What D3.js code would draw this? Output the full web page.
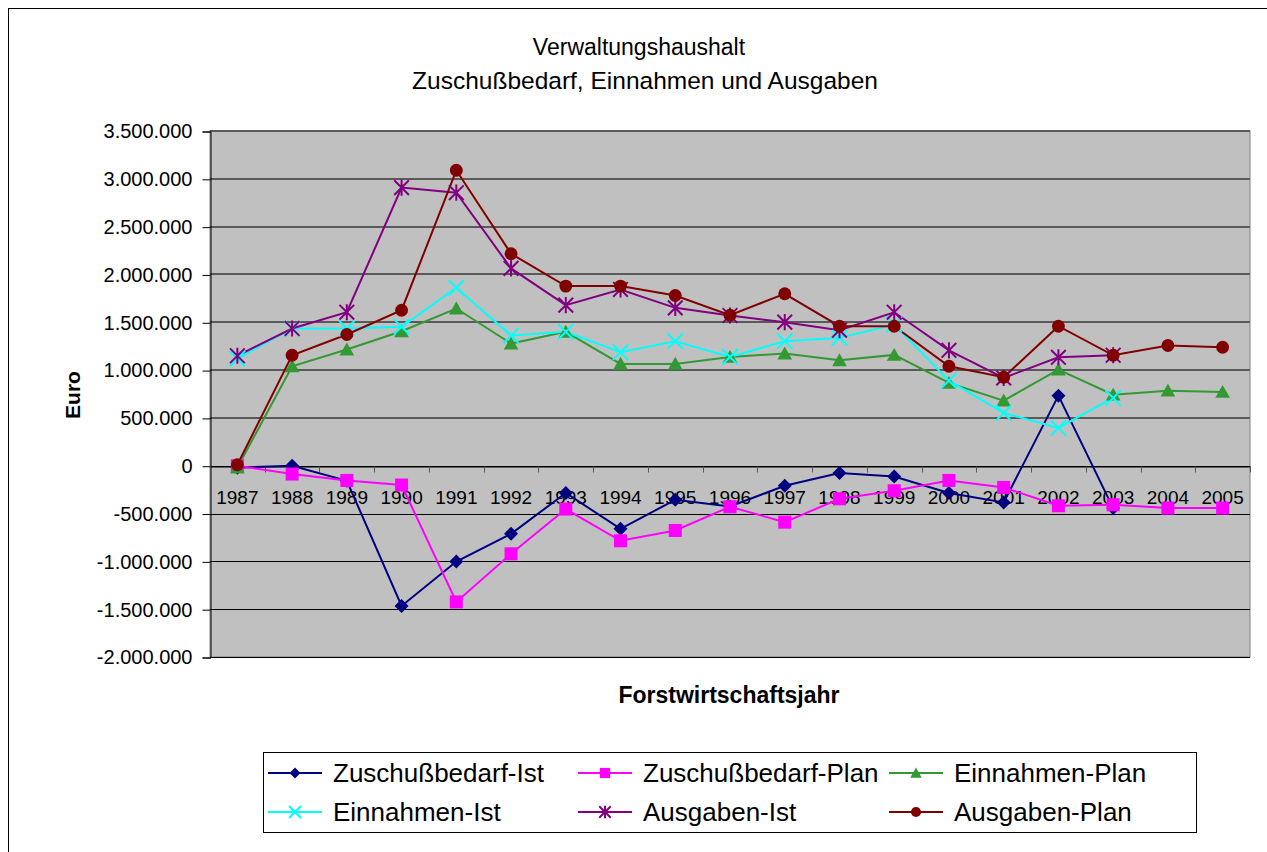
<!DOCTYPE html>
<html><head><meta charset="utf-8">
<script src="https://cdn.jsdelivr.net/npm/d3@7"></script>
<style>body{margin:0;background:#fff}svg{display:block;font-family:"Liberation Sans",Arial,sans-serif}</style>
</head><body><svg id="c" width="1267" height="852"></svg>
<script>
const years = ["1987","1988","1989","1990","1991","1992","1993","1994","1995","1996","1997","1998","1999","2000","2001","2002","2003","2004","2005"];
const yTicks = [3500000,3000000,2500000,2000000,1500000,1000000,500000,0,-500000,-1000000,-1500000,-2000000];
const zuschussIst  = [-20000,0,-157000,-1466000,-1002000,-712000,-285000,-660000,-356000,-426000,-209000,-77000,-112000,-286000,-384000,733000,-443000,null,null];
const zuschussPlan = [0,-87000,-154000,-202000,-1424000,-921000,-453000,-785000,-677000,-429000,-590000,-346000,-262000,-154000,-227000,-419000,-408000,-443000,-443000];
const einnahmenPlan= [-20000,1040000,1215000,1406000,1644000,1277000,1400000,1065000,1065000,1138000,1173000,1103000,1159000,866000,681000,1005000,743000,785000,772000];
const einnahmenIst = [1120000,1435000,1435000,1452000,1861000,1361000,1400000,1187000,1302000,1138000,1302000,1337000,1476000,890000,552000,395000,709000,null,null];
const ausgabenIst  = [1150000,1435000,1605000,2908000,2855000,2063000,1679000,1843000,1651000,1571000,1501000,1417000,1605000,1207000,918000,1134000,1155000,null,null];
const ausgabenPlan = [10000,1155000,1372000,1626000,3089000,2217000,1878000,1878000,1780000,1574000,1798000,1459000,1459000,1040000,925000,1459000,1155000,1257000,1239000];
const seriesNames = ["Zuschußbedarf-Ist","Zuschußbedarf-Plan","Einnahmen-Plan","Einnahmen-Ist","Ausgaben-Ist","Ausgaben-Plan"];

const series = [
  {name:seriesNames[0], values:zuschussIst, color:"#000080", marker:"diamond"},
  {name:seriesNames[1], values:zuschussPlan, color:"#FF00FF", marker:"square"},
  {name:seriesNames[2], values:einnahmenPlan, color:"#339933", marker:"triangle"},
  {name:seriesNames[3], values:einnahmenIst, color:"#00FFFF", marker:"x"},
  {name:seriesNames[4], values:ausgabenIst, color:"#800080", marker:"star"},
  {name:seriesNames[5], values:ausgabenPlan, color:"#800000", marker:"circle"}
];

const svg = d3.select("#c");
const L=210, R=1250, T=131, B=657;
const x = d3.scaleBand().domain(years).range([L,R]);
const y = d3.scaleLinear().domain([-2000000,3500000]).range([B,T]);
const de = d3.formatLocale({decimal:",",thousands:".",grouping:[3],currency:["","€"],minus:"-"});
const fmt = de.format(",.0f");

// outer frame
svg.append("rect").attr("x",8.5).attr("y",8.5).attr("width",1300).attr("height",900).attr("fill","#fff").attr("stroke","#000");

// title
const title = svg.append("text").attr("text-anchor","middle").attr("fill","#000");
title.append("tspan").attr("x",639).attr("y",55).attr("font-size",23).text("Verwaltungshaushalt");
title.append("tspan").attr("x",645).attr("y",89).attr("font-size",24.5).text("Zuschußbedarf, Einnahmen und Ausgaben");

// plot area
svg.append("rect").attr("x",L).attr("y",T).attr("width",R-L).attr("height",B-T).attr("fill","#C0C0C0").attr("stroke","#808080");

// gridlines
svg.append("g").selectAll("line").data(yTicks).join("line")
  .attr("x1",L).attr("x2",R)
  .attr("y1",d=>d>0?Math.round(y(d)):Math.round(y(d))+0.5)
  .attr("y2",d=>d>0?Math.round(y(d)):Math.round(y(d))+0.5)
  .attr("stroke",d=>d>0?"#5a5a5a":"#000").attr("stroke-width",d=>d>0?2:1);

// y axis
const yAxis = d3.axisLeft(y).tickValues(yTicks).tickFormat(fmt).tickSize(8).tickPadding(10);
const gy = svg.append("g").attr("transform",`translate(${L+0.5},0.5)`).call(yAxis);
gy.select(".domain").attr("stroke","#000");
gy.selectAll("text").attr("font-size",20).attr("font-family","Liberation Sans, Arial, sans-serif").attr("fill","#000");
gy.selectAll(".tick line").attr("stroke","#000");

// x axis at zero
const y0 = Math.round(y(0))+0.5;
const xAxis = d3.axisBottom(x).tickSize(0).tickPadding(24);
const gx = svg.append("g").attr("transform",`translate(0,${y0})`).call(xAxis);
gx.select(".domain").attr("stroke","#000");
gx.selectAll("text").attr("font-size",19).attr("font-family","Liberation Sans, Arial, sans-serif").attr("fill","#000");
const bounds = years.map((d)=>x(d)).concat([R]);
svg.append("g").selectAll("line").data(bounds).join("line")
  .attr("x1",d=>Math.round(d)+0.5).attr("x2",d=>Math.round(d)+0.5).attr("y1",y0).attr("y2",y0+6).attr("stroke","#555");

// axis titles
svg.append("text").attr("transform","translate(80,395) rotate(-90)").attr("text-anchor","middle")
  .attr("font-size",21).attr("font-weight","bold").text("Euro");
svg.append("text").attr("x",729).attr("y",703).attr("text-anchor","middle")
  .attr("font-size",23).attr("font-weight","bold").text("Forstwirtschaftsjahr");

// markers
function drawMarker(g, type, color, s){
  if(type==="diamond"){
    g.append("path").attr("d",`M0,${-s}L${s},0L0,${s}L${-s},0Z`).attr("fill",color);
  } else if(type==="square"){
    g.append("rect").attr("x",-s*0.93).attr("y",-s*0.93).attr("width",s*1.86).attr("height",s*1.86).attr("fill",color);
  } else if(type==="triangle"){
    g.append("path").attr("d",`M0,${-s}L${s*1.05},${s*0.85}L${-s*1.05},${s*0.85}Z`).attr("fill",color);
  } else if(type==="circle"){
    g.append("circle").attr("r",s*0.92).attr("fill",color);
  } else if(type==="x"){
    const k=s*1.1;
    g.append("path").attr("d",`M${-k},${-k}L${k},${k}M${-k},${k}L${k},${-k}`).attr("stroke",color).attr("stroke-width",2);
  } else if(type==="star"){
    const k=s*1.05;
    g.append("path").attr("d",`M${-k},${-k}L${k},${k}M${-k},${k}L${k},${-k}M0,${-k*1.1}L0,${k*1.1}`).attr("stroke",color).attr("stroke-width",2);
  }
}

const cx = d=>x(d)+x.bandwidth()/2;
const line = d3.line().defined(d=>d.v!==null).x(d=>cx(d.year)).y(d=>y(d.v));
series.forEach(s=>{
  const pts = years.map((yr,i)=>({year:yr, v:s.values[i]}));
  svg.append("path").datum(pts).attr("d",line).attr("fill","none").attr("stroke",s.color).attr("stroke-width",2);
});
series.forEach(s=>{
  const pts = years.map((yr,i)=>({year:yr, v:s.values[i]})).filter(d=>d.v!==null);
  pts.forEach(p=>{
    const g = svg.append("g").attr("transform",`translate(${cx(p.year)},${y(p.v)})`);
    drawMarker(g, s.marker, s.color, 7);
  });
});

// legend
svg.append("rect").attr("x",263.5).attr("y",752.5).attr("width",933).attr("height",80).attr("fill","#fff").attr("stroke","#000");
const legCols = [268, 578, 889];
const legRows = [773, 812];
series.forEach((s,i)=>{
  const col = legCols[i%3], row = legRows[Math.floor(i/3)];
  const g = svg.append("g");
  g.append("line").attr("x1",col).attr("x2",col+54).attr("y1",row).attr("y2",row).attr("stroke",s.color).attr("stroke-width",2);
  const m = g.append("g").attr("transform",`translate(${col+27},${row})`);
  drawMarker(m, s.marker, s.color, 5.5);
  g.append("text").attr("x",col+65).attr("y",row+9).attr("font-size",26).attr("fill","#000").text(s.name);
});
</script></body></html>
